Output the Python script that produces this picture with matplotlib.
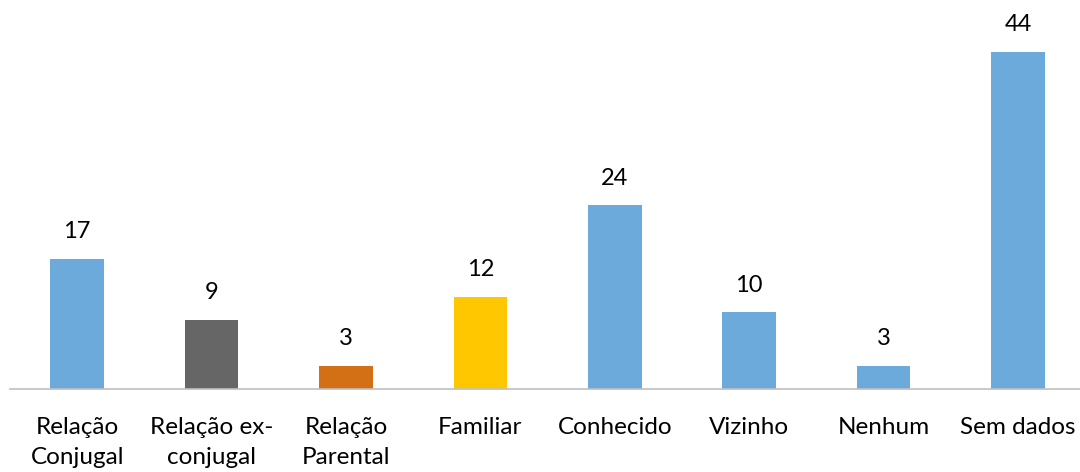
import numpy as np
import matplotlib.pyplot as plt

categories = ["Relação\nConjugal", "Relação ex-\nconjugal", "Relação\nParental",
              "Familiar", "Conhecido", "Vizinho", "Nenhum", "Sem dados"]
values = [17, 9, 3, 12, 24, 10, 3, 44]
colors = ["#6CAADC", "#666666", "#D37015", "#FFC700",
          "#6CAADC", "#6CAADC", "#6CAADC", "#6CAADC"]

plt.rcParams['font.family'] = ['Lato', 'DejaVu Sans']

fig = plt.figure(figsize=(10.8, 4.72), dpi=100)
ax = fig.add_axes([10/1080, 83/472, 1070/1080, 389/472])

x = np.arange(len(values))
bars = ax.bar(x, values, width=0.4, color=colors)

for xi, v in zip(x, values):
    ax.annotate(str(v), (xi, v), xytext=(0, 12), textcoords="offset points",
                ha="center", va="bottom", fontsize=17, color="#000000")

ax.set_xlim(-0.5, -0.5 + 1070/134.4)
ax.set_ylim(0, 50.8)
ax.set_xticks(x)
ax.set_xticklabels(categories, fontsize=17.5, linespacing=1.55)
ax.tick_params(axis="x", length=0, pad=20)
ax.set_yticks([])
for s in ["top", "right", "left"]:
    ax.spines[s].set_visible(False)
ax.spines["bottom"].set_color("#BFBFBF")
ax.spines["bottom"].set_linewidth(1.2)

fig.savefig("out.png", dpi=100)
